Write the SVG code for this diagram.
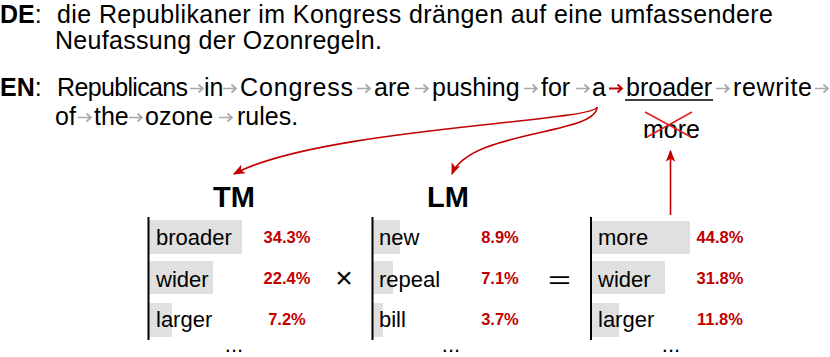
<svg xmlns="http://www.w3.org/2000/svg" xmlns:xlink="http://www.w3.org/1999/xlink" width="830" height="357" viewBox="0 0 830 357">
<style>
  text { font-family: "Liberation Sans", Arial, sans-serif; fill: #000; }
  .big { font-size: 25px; }
  .cell { font-size: 22px; }
  .pct { font-size: 16.5px; font-weight: bold; fill: #c00000; text-anchor: middle; }
  .head { font-size: 29px; font-weight: bold; text-anchor: middle; }
  .bar { fill: #e0e0e0; }
  .axis { stroke: #000; stroke-width: 2; }
  .conn { fill: none; stroke: #c00000; stroke-width: 1.6; marker-end: url(#ah); }
  .dots { font-size: 22px; text-anchor: middle; }
</style>
<defs>
  <marker id="ah" viewBox="0 0 10 8" refX="9" refY="4" markerUnits="userSpaceOnUse" markerWidth="12" markerHeight="10" orient="auto">
    <path d="M0,0 L10,4 L0,8 L2.5,4 z" fill="#c00000"/>
  </marker>
  <path id="ga" d="M0,0 H13 M8.5,-4 L13,0 L8.5,4" fill="none" stroke="#aaaaaa" stroke-width="1.7"/>
  <path id="ra" d="M0,0 H13 M8.5,-4 L13,0 L8.5,4" fill="none" stroke="#c00000" stroke-width="1.9"/>
</defs>

<g id="source">
  <text class="big" x="0" y="23"><tspan font-weight="bold">DE</tspan>:</text>
  <text class="big" x="57" y="23" textLength="716">die Republikaner im Kongress drängen auf eine umfassendere</text>
  <text class="big" x="55" y="49" textLength="327">Neufassung der Ozonregeln.</text>
</g>

<g id="target">
  <text class="big" x="0" y="96"><tspan font-weight="bold">EN</tspan>:</text>
  <text class="big" x="57" y="96" textLength="131">Republicans</text>
  <text class="big" x="204" y="96">in</text>
  <text class="big" x="240" y="96" textLength="113">Congress</text>
  <text class="big" x="374" y="96">are</text>
  <text class="big" x="432" y="96">pushing</text>
  <text class="big" x="541" y="96">for</text>
  <text class="big" x="592" y="96">a</text>
  <text class="big" x="626" y="96">broader</text>
  <line x1="625" y1="100" x2="713" y2="100" stroke="#000" stroke-width="1.5"/>
  <text class="big" x="733" y="96" textLength="79">rewrite</text>
  <text class="big" x="55" y="125">of</text>
  <text class="big" x="94" y="125">the</text>
  <text class="big" x="145" y="125">ozone</text>
  <text class="big" x="237" y="125">rules.</text>
  <use xlink:href="#ga" x="190" y="88.5"/>
  <use xlink:href="#ga" x="223" y="88.5"/>
  <use xlink:href="#ga" x="357" y="88.5"/>
  <use xlink:href="#ga" x="415" y="88.5"/>
  <use xlink:href="#ga" x="524" y="88.5"/>
  <use xlink:href="#ga" x="576" y="88.5"/>
  <use xlink:href="#ra" x="609" y="88.5"/>
  <use xlink:href="#ga" x="716" y="88.5"/>
  <use xlink:href="#ga" x="815" y="88.5"/>
  <use xlink:href="#ga" x="78" y="117.5"/>
  <use xlink:href="#ga" x="129" y="117.5"/>
  <use xlink:href="#ga" x="219" y="117.5"/>
</g>

<g id="rejected">
  <text class="big" x="643" y="138">more</text>
  <line x1="645" y1="112" x2="691" y2="137" stroke="#e0201e" stroke-width="1.5"/>
  <line x1="692" y1="112" x2="647" y2="137" stroke="#e0201e" stroke-width="1.5"/>
</g>

<g id="tm">
  <text class="head" x="234" y="206.5">TM</text>
  <rect class="bar" x="149" y="220" width="93" height="34"/>
  <rect class="bar" x="149" y="261" width="64" height="33"/>
  <rect class="bar" x="149" y="303" width="23" height="34"/>
  <line class="axis" x1="148.5" y1="217" x2="148.5" y2="340"/>
  <text class="cell" x="156" y="245">broader</text>
  <text class="cell" x="156" y="286.5">wider</text>
  <text class="cell" x="156" y="327">larger</text>
  <text class="pct" x="287" y="243">34.3%</text>
  <text class="pct" x="287" y="284">22.4%</text>
  <text class="pct" x="287" y="325">7.2%</text>
  <text class="dots" x="234" y="352">...</text>
</g>

<g id="times">
  <text x="344" y="288" font-size="30" text-anchor="middle">×</text>
</g>

<g id="lm">
  <text class="head" x="448" y="206.5">LM</text>
  <rect class="bar" x="373" y="220" width="27" height="34"/>
  <rect class="bar" x="373" y="261" width="20" height="33"/>
  <rect class="bar" x="373" y="303" width="10" height="34"/>
  <line class="axis" x1="372.5" y1="217" x2="372.5" y2="340"/>
  <text class="cell" x="379" y="245">new</text>
  <text class="cell" x="379" y="286.5">repeal</text>
  <text class="cell" x="379" y="327">bill</text>
  <text class="pct" x="500" y="243">8.9%</text>
  <text class="pct" x="500" y="284">7.1%</text>
  <text class="pct" x="500" y="325">3.7%</text>
  <text class="dots" x="451" y="352">...</text>
</g>

<g id="equals">
  <text x="548" y="288" font-size="24" textLength="23" lengthAdjust="spacingAndGlyphs">=</text>
</g>

<g id="result">
  <rect class="bar" x="592" y="221" width="98" height="33"/>
  <rect class="bar" x="592" y="261" width="73" height="33"/>
  <rect class="bar" x="592" y="303" width="27" height="34"/>
  <line class="axis" x1="591" y1="217" x2="591" y2="340"/>
  <text class="cell" x="598" y="245">more</text>
  <text class="cell" x="598" y="286.5">wider</text>
  <text class="cell" x="598" y="327">larger</text>
  <text class="pct" x="720" y="243">44.8%</text>
  <text class="pct" x="720" y="284">31.8%</text>
  <text class="pct" x="720" y="325">11.8%</text>
  <text class="dots" x="671" y="352">...</text>
</g>

<g id="connectors">
  <path class="conn" d="M597,107 C595,122 320,128 234,174"/>
  <path class="conn" d="M597,107 C597,135 470,130 452,174"/>
  <path class="conn" d="M670.5,215 L670.5,151"/>
</g>
</svg>
